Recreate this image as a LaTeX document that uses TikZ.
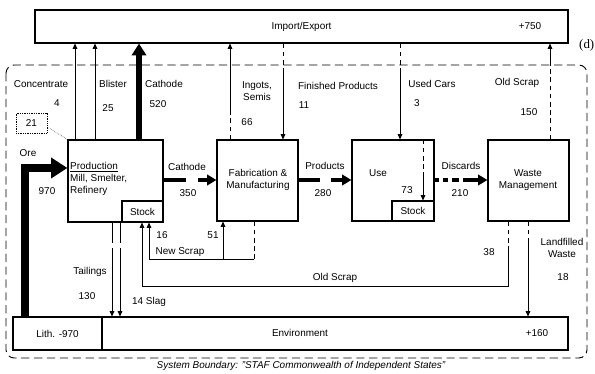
\documentclass[tikz,border=0pt]{standalone}
\usepackage{fontspec}
\setmainfont{Liberation Sans}
\newfontfamily\tagfont{Liberation Serif}
\usetikzlibrary{arrows.meta,fit}

\tikzset{
  box/.style={draw, line width=1pt, inner sep=0pt, fit={#1}},
  lbl/.style={font=\fontsize{8.5}{10.5}\selectfont, inner sep=0pt},
  thinline/.style={line width=0.7pt},
  dashline/.style={line width=0.7pt, dash pattern=on 4pt off 3pt},
  thinflow/.style={line width=0.7pt, -{Triangle[length=4.5pt,width=4pt]}},
  fatflow/.style={line width=5pt, -{Triangle[length=10pt,width=12pt]}},
  midflow/.style={line width=3.4pt, -{Triangle[length=8pt,width=9pt]}},
  oreflow/.style={line width=7.5pt, -{Triangle[length=14pt,width=17pt]}},
  boundary/.style={line width=0.8pt, dash pattern=on 7pt off 4pt, rounded corners=7pt}
}

\begin{document}
\begin{tikzpicture}[x=0.03cm, y=-0.03cm]
\useasboundingbox (0,0) rectangle (595,374);

% System boundary
\draw[boundary] (6,65) rectangle (587,358);
\node[lbl, font=\fontsize{8.5}{10.5}\selectfont\itshape] (sysb) at (301,366)
  {System Boundary: "STAF Commonwealth of Independent States"};
\node[inner sep=0pt, anchor=west, font=\fontsize{11}{13}\selectfont\tagfont] (tag) at (579,45) {(d)};

% Import/Export
\node[box={(35,10) (568,43)}] (imex) {};
\node[lbl] (imextxt) at (imex.center) {Import/Export};
\node[lbl] (imexval) at (530,26) {+750};

% Production
\node[box={(68,140) (163,222)}] (prod) {};
\node[box={(122,201) (163,222)}] (pstock) {};
\node[lbl, anchor=west, align=left] (prodtxt) at (70,179) {\underline{Production}\\Mill, Smelter,\\Refinery};
\node[lbl] (pstocktxt) at (pstock.center) {Stock};

% Fabrication & Manufacturing
\node[box={(217,140) (298,221)}] (fab) {};
\node[lbl, align=center] (fabtxt) at (258,180) {Fabrication \&\\Manufacturing};

% Use
\node[box={(352,140) (434,221)}] (use) {};
\node[box={(392,201) (434,221)}] (ustock) {};
\node[lbl] (usetxt) at (378,173) {Use};
\node[lbl] (ustocktxt) at (ustock.center) {Stock};

% Waste Management
\node[box={(488,140) (569,221)}] (waste) {};
\node[lbl, align=center] (wastetxt) at (528,180) {Waste\\Management};

% Lithosphere and Environment
\node[box={(13,317) (102,350)}] (lith) {};
\node[box={(102,317) (568,350)}] (env) {};
\node[lbl] (lithtxt) at (lith.center) {Lith. -970};
\node[lbl] (envtxt) at (300,333) {Environment};
\node[lbl] (envval) at (537,333) {+160};

% Import of 21
\node[box={(16,113) (47,133)}, line width=0.5pt, densely dotted] (imp) {};
\node[lbl] (imptxt) at (imp.center) {21};
\draw[line width=0.4pt, densely dotted] (imp.east |- 0,127) -- (prod.north west);

% Ore
\draw[oreflow] (lith.north -| 25,0) |- (prod.west |- 0,168);
\node[lbl] (oretxt) at (28,153) {Ore};
\node[lbl] (oreval) at (47,191) {970};

% Exports of Production
\draw[thinflow] (prod.north -| 75,0) -- (imex.south -| 75,0);
\draw[thinflow] (prod.north -| 95,0) -- (imex.south -| 95,0);
\draw[fatflow] (prod.north -| 139,0) -- (imex.south -| 139,0);
\node[lbl] (conctxt) at (41,84) {Concentrate};
\node[lbl] (concval) at (57,103) {4};
\node[lbl] (blistxt) at (113,84) {Blister};
\node[lbl] (blisval) at (108,108) {25};
\node[lbl] (cathtxt) at (164,84) {Cathode};
\node[lbl] (cathval) at (158,104) {520};

% Ingots, Semis
\coordinate (ing) at (230,110);
\draw[dashline] (fab.north -| ing) -- (ing);
\draw[thinflow] (ing) -- (imex.south -| ing);
\node[lbl, align=center] (ingtxt) at (257,91) {Ingots,\\Semis};
\node[lbl] (ingval) at (247,122) {66};

% Finished Products
\coordinate (fin) at (283,73);
\draw[dashline] (imex.south -| fin) -- (fin);
\draw[thinflow] (fin) -- (fab.north -| fin);
\node[lbl] (fintxt) at (338,86) {Finished Products};
\node[lbl] (finval) at (304,105) {11};

% Used Cars
\coordinate (car) at (400,73);
\draw[dashline] (imex.south -| car) -- (car);
\draw[thinflow] (car) -- (use.north -| car);
\node[lbl] (cartxt) at (432,84) {Used Cars};
\node[lbl] (carval) at (417,103) {3};

% Old Scrap export
\coordinate (oldx) at (550,63);
\draw[dashline] (waste.north -| oldx) -- (oldx);
\draw[thinflow] (oldx) -- (imex.south -| oldx);
\node[lbl] (oldxtxt) at (517,83) {Old Scrap};
\node[lbl] (oldxval) at (529,112) {150};

% Main chain
\draw[midflow, dash pattern=on 19pt off 10pt on 40pt] (prod.east |- 0,180) -- (fab.west |- 0,180);
\node[lbl] (c350txt) at (187,167) {Cathode};
\node[lbl] (c350val) at (188,193) {350};
\draw[midflow, dash pattern=on 18pt off 10pt on 40pt] (fab.east |- 0,180) -- (use.west |- 0,180);
\node[lbl] (prodstxt) at (325,166) {Products};
\node[lbl] (prodsval) at (323,193) {280};
\draw[midflow, dash pattern=on 4pt off 3.5pt on 4pt off 3.5pt on 6pt off 3.5pt on 40pt] (use.east |- 0,180) -- (waste.west |- 0,180);
\node[lbl] (disctxt) at (461,166) {Discards};
\node[lbl] (discval) at (460,193) {210};

% Use stock
\coordinate (us) at (423,175);
\draw[dashline] (use.north -| us) -- (us);
\draw[thinflow] (us) -- (ustock.north -| us);
\node[lbl] (usval) at (407,190) {73};

% New Scrap
\coordinate (ns) at (254,259);
\draw[dashline] (fab.south -| ns) -- (ns);
\draw[thinflow] (ns) -| (pstock.south -| 149,0);
\draw[thinflow] (ns -| 223,0) -- (fab.south -| 223,0);
\node[lbl] (nstxt) at (180,252) {New Scrap};
\node[lbl] (nsval) at (162,235) {16};
\node[lbl] (nsfval) at (213,235) {51};

% Old Scrap return
\coordinate (os) at (508,247);
\draw[dashline] (waste.south -| os) -- (os);
\draw[thinflow] (os) |- (142,286) -- (pstock.south -| 142,0);
\node[lbl] (ostxt) at (335,278) {Old Scrap};
\node[lbl] (osval) at (489,252) {38};

% Landfilled Waste
\coordinate (lf) at (528,242);
\draw[dashline] (waste.south -| lf) -- (lf);
\draw[thinflow] (lf) -- (env.north -| lf);
\node[lbl, align=center] (lftxt) at (562,248) {Landfilled\\Waste};
\node[lbl] (lfval) at (563,277) {18};

% Tailings and Slag
\draw[thinflow, dash pattern=on 17pt off 5pt on 200pt] (prod.south -| 112,0) -- (env.north -| 112,0);
\draw[thinflow, dash pattern=on 17pt off 5pt on 200pt] (prod.south -| 120,0) -- (env.north -| 120,0);
\node[lbl] (tailtxt) at (90,272) {Tailings};
\node[lbl] (tailval) at (87,296) {130};
\node[lbl] (slagtxt) at (149,302) {14 Slag};
\end{tikzpicture}
\end{document}
